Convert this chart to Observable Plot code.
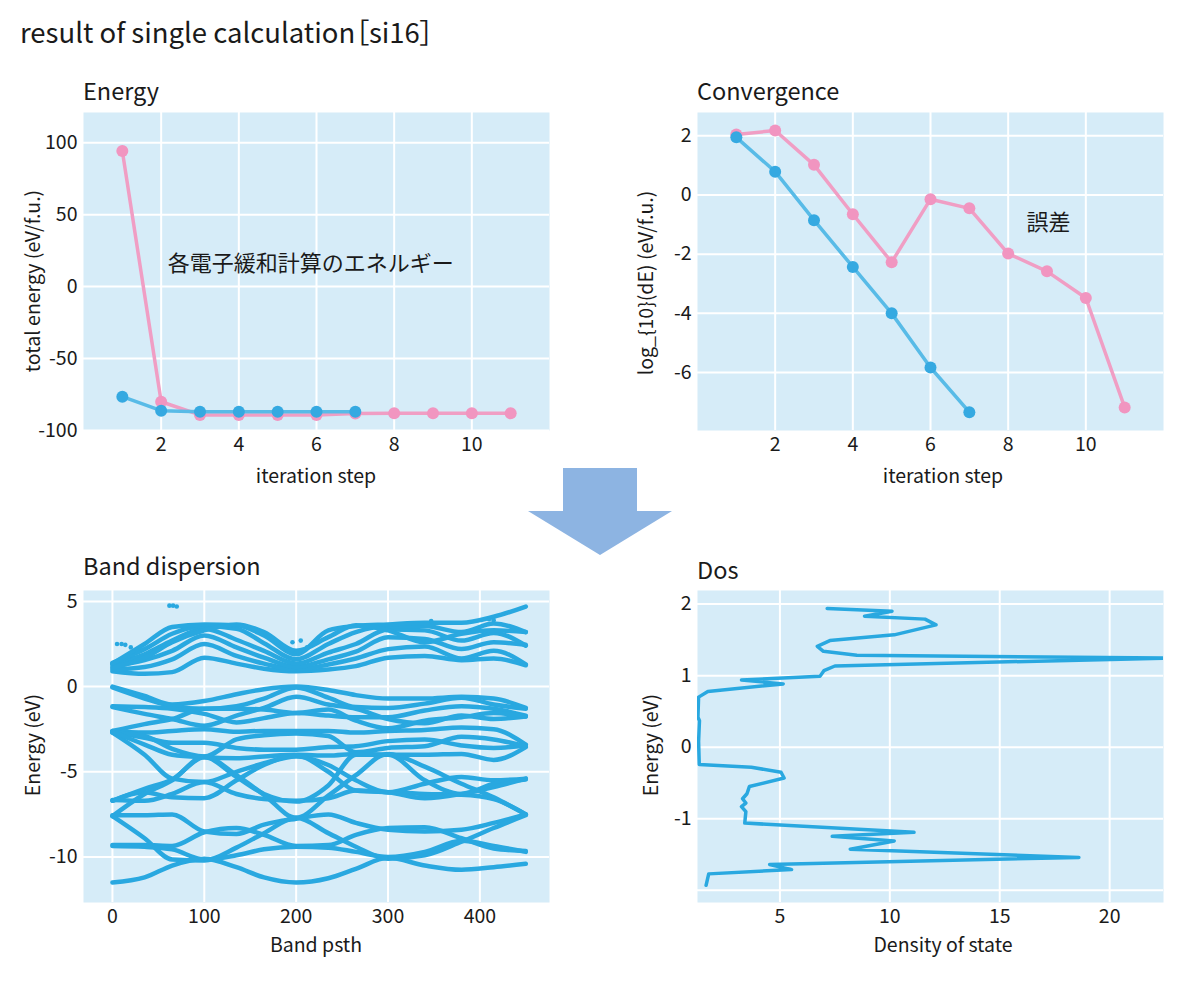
<!DOCTYPE html>
<html><head><meta charset="utf-8">
<script src="https://cdn.jsdelivr.net/npm/d3@7"></script>
<script src="https://cdn.jsdelivr.net/npm/@observablehq/plot@0.6"></script>
<style>
body{margin:0;background:#fff;font-family:"Noto Sans CJK JP","Noto Sans",sans-serif;color:#1a1a1a;}
#page{position:relative;width:1200px;height:985px;overflow:hidden;background:#fff;}
.chart{position:absolute;}
#overlay{position:absolute;left:0;top:0;pointer-events:none;}
#overlay text.main{font-feature-settings:"palt";}
</style></head>
<body><div id="page"></div>
<script>
// ---------- data ----------
const iterationSteps = [1, 2, 3, 4, 5, 6, 7, 8, 9, 10, 11];
const energyPink = [94.2, -80.0, -89.2, -89.2, -89.2, -89.2, -88.2, -88.0, -88.0, -88.0, -88.0];
const energyBlue = [-76.5, -86.2, -86.9, -86.9, -86.9, -86.9, -86.9];
const convPink = [2.05, 2.18, 1.02, -0.65, -2.27, -0.14, -0.45, -1.98, -2.58, -3.48, -7.18];
const convBlue = [1.95, 0.79, -0.85, -2.43, -4.0, -5.83, -7.34];

// band dispersion: energies read at these path positions
const bandPathX = [0, 35, 65, 100, 135, 165, 200, 235, 265, 300, 340, 380, 415, 450];
const conductionBands = [
  [0.9, 0.75, 0.85, 1.7, 1.35, 1.05, 0.9, 1.0, 1.2, 1.7, 1.8, 1.55, 1.65, 1.25],
  [1.0, 1.15, 1.6, 2.5, 1.8, 1.35, 1.0, 1.3, 1.65, 2.2, 2.35, 1.65, 2.1, 1.3],
  [1.2, 1.55, 2.1, 3.0, 2.3, 1.7, 1.15, 1.6, 2.05, 2.9, 2.8, 2.2, 2.6, 2.45],
  [1.3, 1.9, 2.7, 3.4, 2.75, 2.1, 1.35, 2.0, 2.5, 3.35, 3.3, 2.7, 3.15, 2.4],
  [1.4, 2.2, 3.1, 3.55, 3.4, 2.55, 1.6, 2.5, 3.2, 3.55, 3.55, 3.2, 3.7, 3.2],
  [1.35, 2.5, 3.5, 3.65, 3.6, 3.0, 1.9, 3.3, 3.55, 3.65, 3.75, 3.75, 4.1, 4.7],
  [1.1, 1.7, 2.6, 3.3, 3.65, 3.2, 2.1, 2.9, 3.6, 3.3, 2.6, 3.1, 3.3, 3.2]
];
const valenceBands = [
  [0.0, -0.55, -1.05, -0.85, -0.45, -0.15, 0.0, -0.2, -0.5, -0.7, -0.7, -0.6, -0.7, -1.25],
  [-0.05, -0.7, -1.15, -1.3, -1.15, -0.7, -0.05, -0.65, -1.2, -1.25, -1.0, -0.65, -1.05, -1.3],
  [-1.15, -1.2, -1.3, -1.6, -2.1, -1.85, -1.55, -1.7, -1.8, -1.8, -1.4, -1.15, -1.3, -1.7],
  [-1.2, -1.6, -1.9, -2.3, -1.7, -1.25, -0.6, -1.05, -1.3, -1.9, -2.15, -1.7, -1.9, -1.75],
  [-2.6, -2.2, -1.9, -1.3, -1.3, -1.35, -1.55, -1.35, -2.0, -2.45, -2.0, -1.8, -1.55, -1.75],
  [-2.6, -2.7, -2.6, -2.5, -2.65, -2.6, -2.6, -2.6, -2.7, -2.6, -2.55, -2.4, -2.5, -3.4],
  [-2.65, -3.0, -3.3, -3.3, -3.6, -3.7, -3.7, -3.55, -3.5, -3.2, -3.1, -3.45, -3.6, -3.45],
  [-2.7, -2.9, -3.65, -4.1, -3.1, -2.85, -2.75, -2.9, -3.85, -3.6, -3.5, -2.95, -3.1, -3.5],
  [-2.7, -4.0, -5.4, -5.6, -5.0, -4.5, -4.1, -4.6, -5.5, -6.2, -5.7, -5.3, -5.5, -5.4],
  [-2.65, -3.4, -4.0, -4.15, -4.2, -4.1, -4.0, -4.05, -3.95, -4.0, -4.0, -3.95, -4.3, -3.55]
];
const lowerBands = [
  [-6.7, -6.2, -6.5, -6.55, -5.5, -4.6, -4.05, -5.0, -6.1, -6.2, -6.3, -6.35, -6.6, -7.5],
  [-6.7, -6.0, -5.45, -4.15, -5.3, -6.3, -6.75, -5.8, -4.0, -4.0, -5.5, -6.3, -5.7, -5.45],
  [-6.65, -6.7, -6.3, -5.6, -6.3, -6.6, -6.7, -6.55, -6.1, -6.2, -6.55, -6.3, -5.9, -5.4],
  [-7.6, -6.3, -5.5, -4.1, -5.2, -6.35, -7.7, -6.4, -5.2, -3.95, -4.7, -5.7, -6.5, -7.5],
  [-7.55, -7.55, -7.5, -8.5, -8.65, -8.1, -7.75, -7.5, -8.0, -8.4, -8.5, -8.4, -8.0, -7.5],
  [-7.6, -8.9, -10.15, -10.2, -9.45, -8.6, -7.7, -8.6, -9.4, -10.1, -9.9, -9.1, -8.3, -7.55],
  [-9.3, -9.3, -9.35, -8.55, -8.3, -8.7, -9.35, -9.3, -8.7, -8.3, -8.25, -8.9, -9.5, -9.65],
  [-9.35, -9.4, -9.55, -10.15, -9.9, -9.55, -9.4, -9.45, -9.7, -10.0, -9.7, -9.05, -9.35, -9.7],
  [-11.5, -11.2, -10.5, -10.1, -10.6, -11.2, -11.5, -11.25, -10.7, -10.05, -10.5, -10.75, -10.6, -10.4]
];
const bandSpeckX = [5, 10, 14, 20, 62, 66, 70, 190, 196, 200, 205, 212, 347, 410, 415];
const bandSpeckE = [2.5, 2.5, 2.45, 2.3, 4.75, 4.75, 4.7, 2.2, 2.6, 2.05, 2.7, 2.3, 3.85, 3.95, 3.9];

// density of states (density, energy) in drawing order
const dosDensity = [7.15, 10.1, 8.85, 11.6, 12.1, 10.2, 7.27, 6.7, 6.98, 8.5, 22.45, 7.5, 7.0, 6.82, 3.25, 5.15, 1.72, 1.3, 1.27, 1.34, 1.3, 1.33, 3.7, 5.05, 5.19, 3.61, 3.5, 3.3, 3.45, 3.25, 3.45, 3.4, 11.1, 7.38, 10.2, 8.2, 18.6, 4.53, 5.53, 1.76, 1.64];
const dosEnergy = [1.94, 1.90, 1.83, 1.79, 1.71, 1.57, 1.49, 1.41, 1.34, 1.285, 1.245, 1.135, 1.07, 0.99, 0.94, 0.885, 0.78, 0.70, 0.42, 0.37, 0.08, -0.24, -0.28, -0.35, -0.43, -0.55, -0.65, -0.72, -0.78, -0.83, -0.9, -1.06, -1.19, -1.245, -1.31, -1.425, -1.54, -1.64, -1.71, -1.77, -1.93];

const stepTicks = [2, 4, 6, 8, 10];
const energyTicks = [-100, -50, 0, 50, 100];
const convTicks = [-6, -4, -2, 0, 2];
const bandXTicks = [0, 100, 200, 300, 400];
const bandYTicks = [-10, -5, 0, 5];
const dosXTicks = [5, 10, 15, 20];
const dosYTicks = [-2, -1, 0, 1, 2];

// ---------- styling ----------
const FONT = "'Noto Sans CJK JP', 'Noto Sans', sans-serif";
const BG = "#D6ECF8";
const PINK = "#F09EC4", PINK_DOT = "#F195C0";
const BLUE = "#58BBE7", BLUE_DOT = "#35A9E1";
const BAND = "#29A8E0";
const plain = d => String(d);

const page = document.getElementById("page");

function panel({left, top, width, height, margin, x, y, xTicks, yTicks, yFormat = plain, marks}) {
  const chart = Plot.plot({
    width, height,
    marginLeft: margin[0], marginTop: margin[1], marginRight: margin[2], marginBottom: margin[3],
    x: {...x, label: null},
    y: {...y, label: null},
    style: {fontFamily: FONT, fontSize: "19.5px", color: "#1a1a1a", background: "transparent", overflow: "visible"},
    marks: [
      Plot.frame({fill: BG, stroke: null}),
      Plot.gridX(xTicks, {stroke: "white", strokeOpacity: 1, strokeWidth: 2}),
      Plot.gridY(yTicks, {stroke: "white", strokeOpacity: 1, strokeWidth: 2}),
      Plot.axisX(xTicks, {tickSize: 0, tickPadding: 7, label: null, tickFormat: plain}),
      Plot.axisY(yTicks, {tickSize: 0, tickPadding: 6, label: null, tickFormat: yFormat}),
      ...marks
    ]
  });
  chart.classList.add("chart");
  chart.style.left = left + "px";
  chart.style.top = top + "px";
  page.appendChild(chart);
}

const rows = (vals) => vals.map((v, i) => ({step: iterationSteps[i], v}));

// Energy
panel({
  left: 0, top: 100, width: 580, height: 370, margin: [83, 12, 31, 40],
  x: {domain: [0, 12]}, y: {domain: [-100, 121]},
  xTicks: stepTicks, yTicks: energyTicks,
  marks: [
    Plot.line(rows(energyPink), {x: "step", y: "v", stroke: PINK, strokeWidth: 3.5}),
    Plot.dot(rows(energyPink), {x: "step", y: "v", fill: PINK_DOT, r: 6}),
    Plot.line(rows(energyBlue), {x: "step", y: "v", stroke: BLUE, strokeWidth: 3.5}),
    Plot.dot(rows(energyBlue), {x: "step", y: "v", fill: BLUE_DOT, r: 6}),
    Plot.text(["各電子緩和計算のエネルギー"], {x: 5.85, y: 16, text: d => d, fontSize: 22, fill: "#1a1a1a"})
  ]
});

// Convergence
panel({
  left: 600, top: 100, width: 600, height: 370, margin: [97, 12, 37, 40],
  x: {domain: [0, 12]}, y: {domain: [-7.96, 2.79]},
  xTicks: stepTicks, yTicks: convTicks,
  marks: [
    Plot.line(rows(convPink), {x: "step", y: "v", stroke: PINK, strokeWidth: 3.5}),
    Plot.dot(rows(convPink), {x: "step", y: "v", fill: PINK_DOT, r: 6}),
    Plot.line(rows(convBlue), {x: "step", y: "v", stroke: BLUE, strokeWidth: 3.5}),
    Plot.dot(rows(convBlue), {x: "step", y: "v", fill: BLUE_DOT, r: 6}),
    Plot.text(["誤差"], {x: 9.04, y: -0.96, text: d => d, fontSize: 22, fill: "#1a1a1a"})
  ]
});

// Band dispersion
const bandRows = [];
[...conductionBands, ...valenceBands, ...lowerBands].forEach((band, b) =>
  band.forEach((e, i) => bandRows.push({path: bandPathX[i], e, band: b})));
const speckRows = bandSpeckX.map((p, i) => ({path: p, e: bandSpeckE[i]}));
panel({
  left: 0, top: 578, width: 580, height: 362, margin: [83, 12, 31, 38],
  x: {domain: [-31.5, 475.8]}, y: {domain: [-12.67, 5.64]},
  xTicks: bandXTicks, yTicks: bandYTicks,
  marks: [
    Plot.line(bandRows, {x: "path", y: "e", z: "band", stroke: BAND, strokeWidth: 4.5, curve: "monotone-x"}),
    Plot.dot(speckRows, {x: "path", y: "e", fill: BAND, r: 2.3})
  ]
});

// Dos
const dosRows = dosDensity.map((d, i) => ({d, e: dosEnergy[i]}));
panel({
  left: 600, top: 578, width: 600, height: 362, margin: [97, 12, 37, 38],
  x: {domain: [1.25, 22.45]}, y: {domain: [-2.17, 2.19]},
  xTicks: dosXTicks, yTicks: dosYTicks, yFormat: d => d === -2 ? "" : String(d),
  marks: [
    Plot.line(dosRows, {x: "d", y: "e", stroke: BAND, strokeWidth: 3.5, clip: true})
  ]
});

// ---------- titles, axis titles and arrow ----------
const svgNS = "http://www.w3.org/2000/svg";
const overlay = document.createElementNS(svgNS, "svg");
overlay.setAttribute("id", "overlay");
overlay.setAttribute("width", 1200);
overlay.setAttribute("height", 985);
page.appendChild(overlay);
function addText(str, x, y, size, opts = {}) {
  const t = document.createElementNS(svgNS, "text");
  t.textContent = str;
  t.setAttribute("x", x); t.setAttribute("y", y);
  t.setAttribute("font-size", size);
  t.setAttribute("font-family", FONT);
  t.setAttribute("fill", "#1a1a1a");
  if (opts.cls) t.setAttribute("class", opts.cls);
  if (opts.anchor) t.setAttribute("text-anchor", opts.anchor);
  if (opts.baseline) t.setAttribute("dominant-baseline", opts.baseline);
  if (opts.rotate) t.setAttribute("transform", `rotate(${opts.rotate} ${x} ${y})`);
  overlay.appendChild(t);
}
addText("result of single calculation［si16］", 20, 43, 27.5, {cls: "main"});
addText("Energy", 83, 100, 23.5);
addText("Convergence", 697, 100, 23.5);
addText("Band dispersion", 83, 575, 23.5);
addText("Dos", 697, 579, 23.5);
addText("iteration step", 316, 478, 19.5, {anchor: "middle", baseline: "middle"});
addText("iteration step", 943, 478, 19.5, {anchor: "middle", baseline: "middle"});
addText("Band psth", 316, 947, 19.5, {anchor: "middle", baseline: "middle"});
addText("Density of state", 943, 947, 19.5, {anchor: "middle", baseline: "middle"});
addText("total energy (eV/f.u.)", 35, 281, 19.5, {anchor: "middle", baseline: "middle", rotate: -90});
addText("log_{10}(dE) (eV/f.u.)", 648, 283, 19.5, {anchor: "middle", baseline: "middle", rotate: -90});
addText("Energy (eV)", 35, 745, 19.5, {anchor: "middle", baseline: "middle", rotate: -90});
addText("Energy (eV)", 653, 745, 19.5, {anchor: "middle", baseline: "middle", rotate: -90});
const arrow = document.createElementNS(svgNS, "polygon");
arrow.setAttribute("points", "563,468 637,468 637,511 672,511 600,555 528,511 563,511");
arrow.setAttribute("fill", "#8DB4E2");
overlay.appendChild(arrow);
</script>
</body></html>
